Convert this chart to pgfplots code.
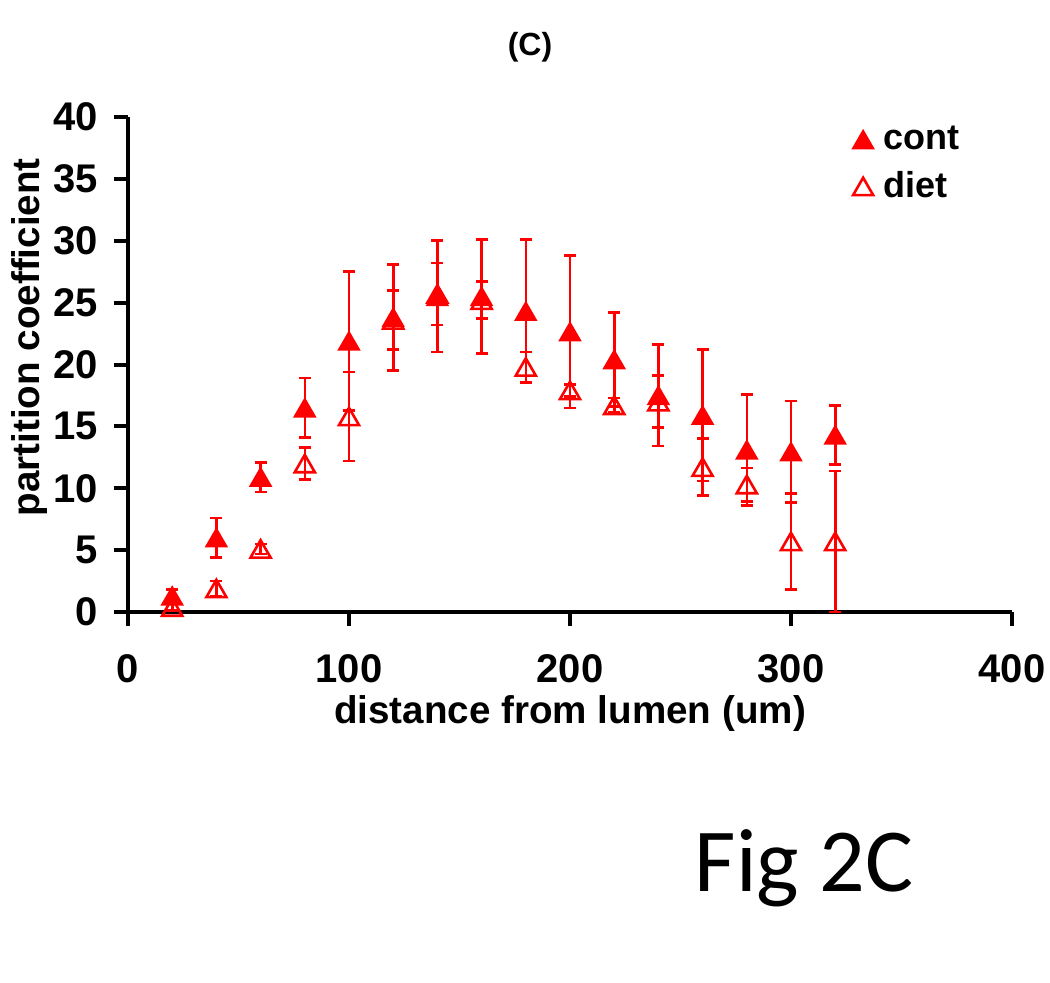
\documentclass[border=0pt]{standalone}
\usepackage{pgfplots}
\pgfplotsset{compat=1.18}
\usepackage{fontspec}
\setmainfont{Liberation Sans}
\newfontfamily\figfont{Carlito}
\begin{document}
\begin{tikzpicture}[x=1pt,y=1pt]
\useasboundingbox (0,0) rectangle (525,491);
\begin{axis}[
  at={(64pt,185pt)}, anchor=origin,
  scale only axis, width=442pt, height=247.5pt,
  xmin=0, xmax=400, ymin=0, ymax=40,
  xtick={0,100,200,300,400}, ytick={0,5,...,40},
  axis x line=bottom, axis y line=left,
  axis line style={-, line width=2pt, black},
  tick align=outside, major tick length=7pt,
  tick style={line width=2pt, black},
  /pgf/number format/assume math mode=true,
  ticklabel style={font=\fontsize{20}{23}\selectfont\bfseries},
  xticklabel style={yshift=-11pt},
  yticklabel style={xshift=-4.5pt},
  xlabel={distance from lumen (um)},
  ylabel={partition coefficient},
  label style={font=\fontsize{19.3}{23}\selectfont\bfseries},
  xlabel style={at={(axis description cs:0.5,-0.205)}, anchor=center},
  ylabel style={at={(axis description cs:-0.111,0.555)}, anchor=center, rotate=0},
  clip=false,
  legend style={at={(axis description cs:0.813,0.998)}, anchor=north west, draw=none, fill=none,
    font=\fontsize{18}{22}\selectfont\bfseries, row sep=5.5pt},
  legend cell align=left,
]
\addplot[only marks, red, mark=triangle*, mark size=5.8pt, mark options={fill=red, line width=1pt, yshift=-1.45pt},
  error bars/.cd, y dir=both, y explicit,
  error bar style={line width=1.3pt, red},
  error mark options={rotate=90, mark size=3pt, line width=1.3pt, red, yshift=0pt}]
coordinates {
(20,1.3) +- (0,0.5)
(40,6.0) +- (0,1.6)
(60,10.9) +- (0,1.2)
(80,16.5) +- (0,2.4)
(100,21.9) +- (0,5.6)
(120,23.8) +- (0,4.3)
(140,25.5) +- (0,4.5)
(160,25.5) +- (0,4.6)
(180,24.3) +- (0,5.8)
(200,22.65) +- (0,6.15)
(220,20.4) +- (0,3.8)
(240,17.5) +- (0,4.1)
(260,15.9) +- (0,5.3)
(280,13.1) +- (0,4.5)
(300,12.95) +- (0,4.1)
(320,14.3) +- (0,2.4)
};
\addlegendentry{\hspace{3pt}cont}
\addplot[only marks, red, mark=triangle, mark size=5.8pt, mark options={fill=none, line width=1.3pt, yshift=-1.45pt},
  error bars/.cd, y dir=both, y explicit,
  error bar style={line width=1.3pt, red},
  error mark options={rotate=90, mark size=3pt, line width=1.3pt, red, yshift=0pt}]
coordinates {
(20,0.4) +- (0,0.3)
(40,1.9) +- (0,0.6)
(60,5.1) +- (0,0.4)
(80,12.0) +- (0,1.3)
(100,15.8) +- (0,3.6)
(120,23.6) +- (0,2.4)
(140,25.7) +- (0,2.5)
(160,25.2) +- (0,1.5)
(180,19.8) +- (0,1.2)
(200,17.9) +- (0,0.5)
(220,16.7) +- (0,0.6)
(240,17.0) +- (0,2.1)
(260,11.7) +- (0,2.3)
(280,10.3) +- (0,1.35)
(300,5.7) +- (0,3.9)
(320,5.7) +- (0,5.7)
};
\addlegendentry{\hspace{3pt}diet}
\end{axis}
\node[font=\fontsize{16}{19}\selectfont\bfseries] at (265,467.5) {(C)};
\node[font=\figfont\fontsize{45}{54}\selectfont, anchor=base, inner sep=0pt] at (402,45.5) {Fig 2C};
\end{tikzpicture}
\end{document}
